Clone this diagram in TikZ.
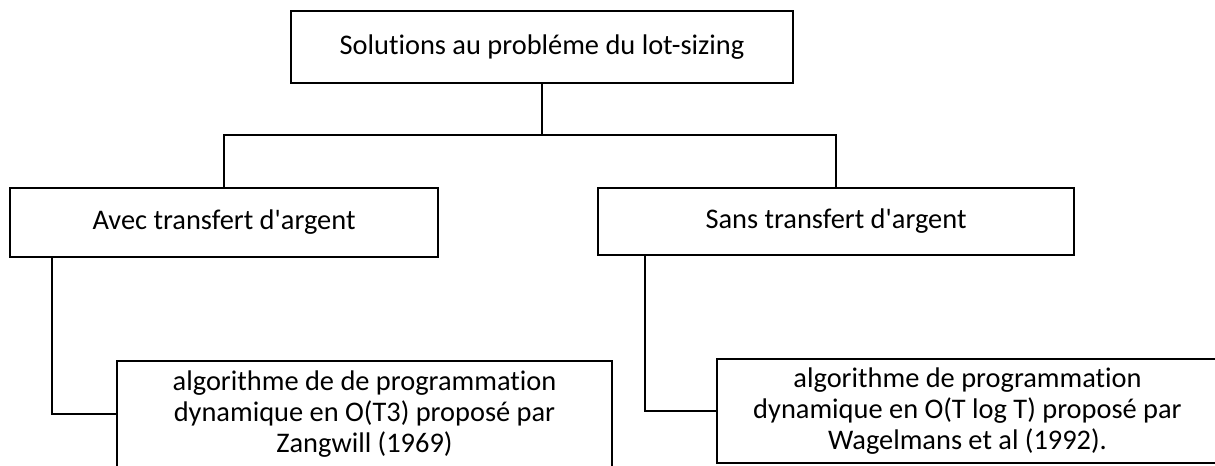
\documentclass[tikz,border=0pt]{standalone}
\usepackage{fontspec}
\setmainfont{Carlito}[Ligatures={NoCommon}]
\begin{document}
\begin{tikzpicture}[x=0.75pt,y=-0.75pt,
  box/.style={draw=black, line width=1.5pt, rectangle, inner sep=0pt, align=center,
              font=\fontsize{21.3}{23.4}\selectfont},
  link/.style={draw=black, line width=1.5pt}]
\useasboundingbox[fill=white] (0,0) rectangle (1215,465);

% tree boxes
\node[box, minimum width=376.5pt, minimum height=54pt] (root) at (542,47)
  {Solutions au probléme du lot-sizing};
\node[box, minimum width=321pt, minimum height=51.75pt] (avec) at (224,222.5)
  {Avec transfert d\textquotesingle argent};
\node[box, minimum width=357pt, minimum height=50.25pt] (sans) at (836,221.5)
  {Sans transfert d\textquotesingle argent};
\node[box, minimum width=371.25pt, minimum height=79.5pt] (zang) at (364.5,414)
  {algorithme de de programmation\\dynamique en O(T3) proposé par\\Zangwill (1969)};
\node[box, minimum width=375.75pt, minimum height=78pt] (wag) at (967.5,411)
  {algorithme de programmation\\dynamique en O(T log T) proposé par\\Wagelmans et al (1992).};

% connectors
\coordinate (split) at (542,135);
\draw[link] (root.south) -- (split);
\draw[link] (avec.north) |- (split) -| (sans.north);
\draw[link] ([xshift=32.25pt]avec.south west) |- (zang.west);
\draw[link] ([xshift=36pt]sans.south west) |- (wag.west);
\end{tikzpicture}
\end{document}
